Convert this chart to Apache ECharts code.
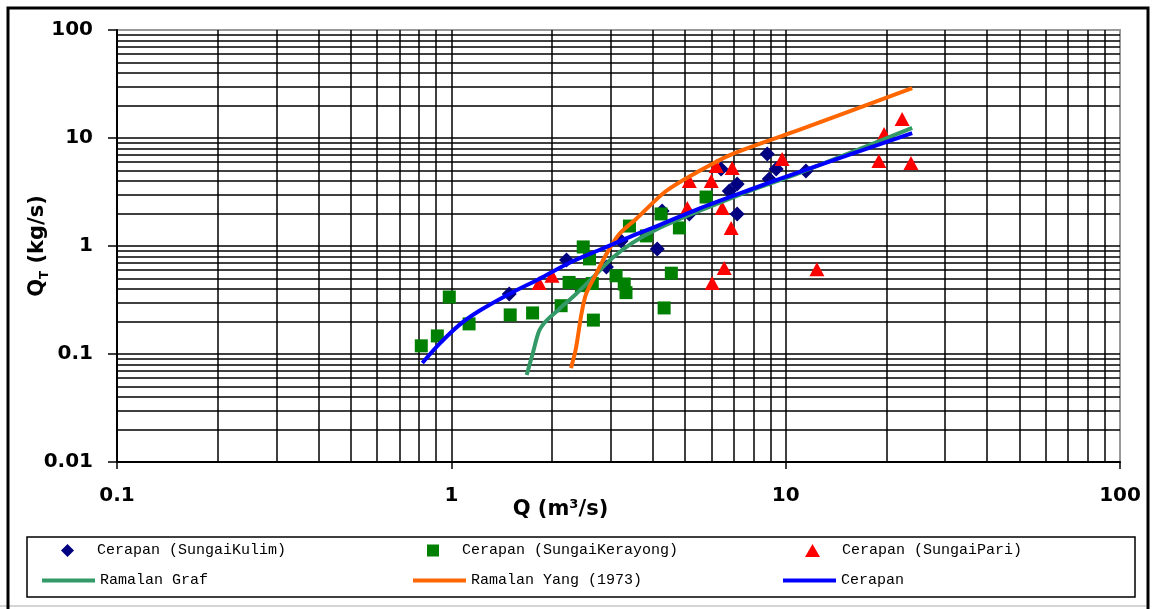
<!DOCTYPE html>
<html>
<head>
<meta charset="utf-8">
<script src="https://cdn.jsdelivr.net/npm/echarts@6/dist/echarts.min.js"></script>
<style>html,body{margin:0;padding:0;background:#fff}#c{width:1153px;height:609px}</style>
</head>
<body>
<div id="c"></div>
<script>
// ---- data ----
const kulimQ  = [1.49, 2.21, 2.91, 3.22, 4.13, 4.27, 5.15, 6.41, 6.78, 7.16, 7.16, 8.81, 8.93, 9.37, 11.5];
const kulimQT = [0.36, 0.74, 0.64, 1.11, 0.94, 2.11, 1.98, 5.16, 3.23, 3.75, 1.98, 7.1, 4.17, 5.16, 4.95];

const kerayongQ  = [0.813, 0.908, 0.986, 1.13, 1.50, 1.75, 2.13, 2.25, 2.45, 2.48, 2.59, 2.64, 2.66, 3.11, 3.29, 3.33, 3.41, 3.83, 4.24, 4.33, 4.55, 4.81, 5.78];
const kerayongQT = [0.119, 0.147, 0.337, 0.19, 0.23, 0.24, 0.28, 0.46, 0.43, 0.98, 0.76, 0.45, 0.206, 0.53, 0.445, 0.37, 1.53, 1.24, 1.98, 0.267, 0.56, 1.47, 2.84];

const pariQ  = [1.83, 2.0, 5.08, 5.15, 5.99, 6.03, 6.2, 6.46, 6.55, 6.87, 6.92, 9.76, 12.4, 19.0, 19.7, 22.3, 23.7];
const pariQT = [0.454, 0.53, 2.25, 4.0, 4.0, 0.455, 5.5, 2.25, 0.625, 1.47, 5.27, 6.39, 0.61, 6.12, 10.9, 15.0, 5.87];

const grafQ  = [1.68, 1.75, 1.83, 1.92, 2.10, 2.36, 2.64, 3.03, 3.48, 4.19, 5.51, 7.78, 10.97, 23.9];
const grafQT = [0.064, 0.1, 0.163, 0.202, 0.26, 0.36, 0.505, 0.774, 1.07, 1.47, 2.11, 3.23, 4.74, 12.4];

const yangQ  = [2.28, 2.36, 2.45, 2.53, 2.71, 2.91, 3.18, 3.57, 4.39, 5.51, 6.92, 10.97, 23.9];
const yangQT = [0.074, 0.114, 0.235, 0.36, 0.55, 0.843, 1.29, 1.78, 3.23, 4.94, 7.1, 11.9, 29.0];

const cerapanQ  = [0.819, 0.921, 1.057, 1.21, 1.49, 1.83, 2.25, 2.77, 3.41, 4.19, 5.51, 7.78, 10.97, 23.9];
const cerapanQT = [0.0826, 0.124, 0.186, 0.25, 0.36, 0.495, 0.696, 0.918, 1.21, 1.56, 2.22, 3.30, 4.84, 11.1];

const seriesNames = ['Cerapan (SungaiKulim)', 'Cerapan (SungaiKerayong)', 'Cerapan (SungaiPari)',
                     'Ramalan Graf', 'Ramalan Yang (1973)', 'Cerapan'];

const xTickLabels = ['0.1', '1', '10', '100'];
const yTickLabels = ['0.01', '0.1', '1', '10', '100'];

const xGridValues = [0.2,0.3,0.4,0.5,0.6,0.7,0.8,0.9,1,2,3,4,5,6,7,8,9,10,20,30,40,50,60,70,80,90];
const yGridValues = [0.02,0.03,0.04,0.05,0.06,0.07,0.08,0.09,0.1,0.2,0.3,0.4,0.5,0.6,0.7,0.8,0.9,1,2,3,4,5,6,7,8,9,10,20,30,40,50,60,70,80,90];

// ---- build ----
const zip = (a, b) => a.map((v, i) => [v, b[i]]);
const chart = echarts.init(document.getElementById('c'), null, {renderer: 'canvas'});

const gridLines = xGridValues.map(v => ({xAxis: v})).concat(yGridValues.map(v => ({yAxis: v})));

const legendLefts = [61, 427, 805, 42, 413, 783];
const legendSizes = [[13, 13], [12, 12], [15, 13], [53, 4], [53, 4], [53, 4]];
const legends = seriesNames.map((n, i) => {
  const isLine = i >= 3;
  return {
    data: isLine ? [{name: n, icon: 'rect'}] : [n],
    left: legendLefts[i], top: isLine ? 573 : 543, padding: 0,
    itemWidth: legendSizes[i][0], itemHeight: legendSizes[i][1], itemGap: 0,
    selectedMode: false,
    textStyle: {fontFamily: 'Liberation Mono', fontSize: 15, color: '#000',
      padding: isLine ? [0, 0, 0, 0] : [0, 0, 0, i === 2 ? 17 : 18]}
  };
});

const option = {
  backgroundColor: '#fff',
  animation: false,
  grid: {left: 117, right: 33, top: 30, bottom: 147, show: true, borderColor: '#999', borderWidth: 2, backgroundColor: 'transparent'},
  xAxis: {
    type: 'log', logBase: 10, min: 0.1, max: 100,
    axisLine: {show: true, onZero: false, lineStyle: {color: '#000', width: 2}},
    axisTick: {show: true, length: 7, lineStyle: {color: '#000', width: 1.5}},
    splitLine: {show: false},
    minorTick: {show: false},
    axisLabel: {margin: 24, fontFamily: 'DejaVu Sans', fontWeight: 'bold', fontSize: 20, color: '#000',
      formatter: (v, i) => xTickLabels[i]},
    name: 'Q (m³/s)', nameLocation: 'middle', nameGap: 37, nameMoveOverlap: false,
    nameTextStyle: {fontFamily: 'DejaVu Sans', fontWeight: 'bold', fontSize: 21, color: '#000', padding: [0, 116, 0, 0]}
  },
  yAxis: {
    type: 'log', logBase: 10, min: 0.01, max: 100,
    axisLine: {show: true, onZero: false, lineStyle: {color: '#000', width: 2}},
    axisTick: {show: true, length: 9, lineStyle: {color: '#000', width: 1.5}},
    splitLine: {show: false},
    axisLabel: {margin: 24, fontFamily: 'DejaVu Sans', fontWeight: 'bold', fontSize: 20, color: '#000',
      formatter: (v, i) => yTickLabels[i]},
    name: '{a|Q}{b|T}{a| (kg/s)}', nameLocation: 'middle', nameGap: 66, nameRotate: 90, nameMoveOverlap: false,
    nameTextStyle: {
      rich: {
        a: {fontFamily: 'DejaVu Sans', fontWeight: 'bold', fontSize: 21, color: '#000', lineHeight: 26},
        b: {fontFamily: 'DejaVu Sans', fontWeight: 'bold', fontSize: 12, color: '#000', lineHeight: 26, verticalAlign: 'bottom', padding: [10, 0, 0, 0]}
      }
    }
  },
  legend: legends,
  graphic: [
    {type: 'rect', shape: {x: 8, y: 8, width: 1140, height: 606}, style: {fill: 'none', stroke: '#000', lineWidth: 3}, z: 10, silent: true},
    {type: 'line', shape: {x1: 0, y1: 606, x2: 1146, y2: 606}, style: {stroke: '#aaa', lineWidth: 1}, silent: true},
    {type: 'rect', shape: {x: 27, y: 537, width: 1108, height: 60}, style: {fill: 'none', stroke: '#000', lineWidth: 1.5}, silent: true}
  ],
  series: [
    {
      name: 'grid', type: 'line', data: [], silent: true, symbol: 'none',
      markLine: {
        silent: true, symbol: ['none', 'none'], z: 1, animation: false,
        label: {show: false},
        lineStyle: {color: '#000', width: 1.5, type: 'solid'},
        emphasis: {disabled: true},
        data: gridLines
      }
    },
    {
      name: seriesNames[0], type: 'scatter', data: zip(kulimQ, kulimQT),
      symbol: 'diamond', symbolSize: 15, itemStyle: {color: '#000080', opacity: 1}
    },
    {
      name: seriesNames[1], type: 'scatter', data: zip(kerayongQ, kerayongQT),
      symbol: 'rect', symbolSize: 13, itemStyle: {color: '#008000', opacity: 1}
    },
    {
      name: seriesNames[2], type: 'scatter', data: zip(pariQ, pariQT),
      symbol: 'triangle', symbolSize: [15, 14], itemStyle: {color: '#FF0000', opacity: 1}
    },
    {
      name: seriesNames[3], type: 'line', data: zip(grafQ, grafQT), symbol: 'none', smooth: 0.3,
      lineStyle: {color: '#339966', width: 4}, itemStyle: {color: '#339966'}
    },
    {
      name: seriesNames[4], type: 'line', data: zip(yangQ, yangQT), symbol: 'none', smooth: 0.3,
      lineStyle: {color: '#FF6600', width: 4}, itemStyle: {color: '#FF6600'}
    },
    {
      name: seriesNames[5], type: 'line', data: zip(cerapanQ, cerapanQT), symbol: 'none', smooth: 0.3,
      lineStyle: {color: '#0000FF', width: 4}, itemStyle: {color: '#0000FF'}
    }
  ]
};
chart.setOption(option);
</script>
</body>
</html>
